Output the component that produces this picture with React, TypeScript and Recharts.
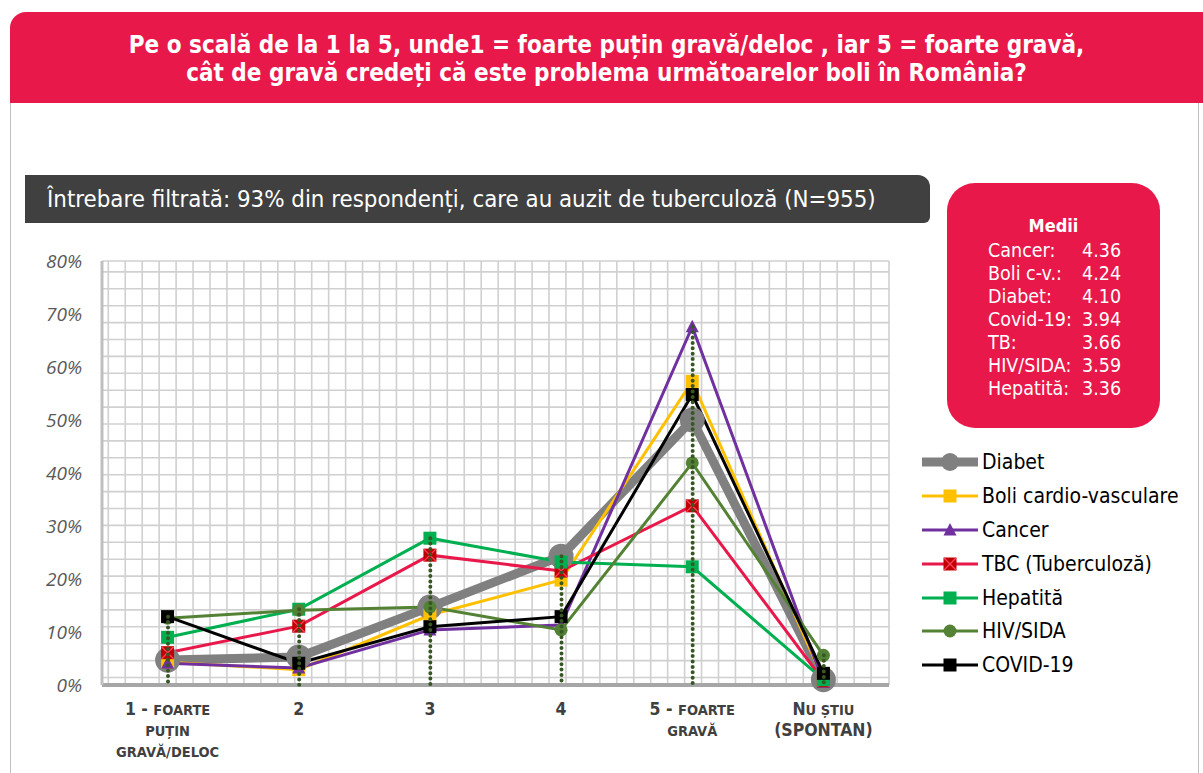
import React from "react";
import {
  ComposedChart,
  Line,
  Bar,
  XAxis,
  YAxis,
  CartesianGrid,
} from "recharts";

// categories of the scale (x axis)
const categories = ["1", "2", "3", "4", "5", "NS"];
// each label line: [big part, small-caps part]
const categoryLabels: [string, string][][] = [
  [["1 - ", "FOARTE"], ["", "PUȚIN"], ["", "GRAVĂ/DELOC"]],
  [["2", ""]],
  [["3", ""]],
  [["4", ""]],
  [["5 - ", "FOARTE"], ["", "GRAVĂ"]],
  [["N", "U ȘTIU"], ["(SPONTAN)", ""]],
];

// % of respondents, one value per category
const diabet = [4.7, 5.3, 14.7, 24.3, 50.0, 1.0];
const boliCV = [4.3, 2.9, 13.2, 19.8, 57.3, 1.0];
const cancer = [4.1, 3.2, 10.4, 11.3, 67.6, 0.5];
const tbc = [6.1, 11.1, 24.5, 21.5, 33.8, 0.8];
const hepatita = [9.0, 14.3, 27.7, 23.2, 22.3, 1.0];
const hivSida = [12.6, 14.1, 14.7, 10.4, 41.9, 5.6];
const covid = [12.9, 4.1, 11.0, 12.9, 54.8, 2.2];

const yTicks = [0, 10, 20, 30, 40, 50, 60, 70, 80];

const mediiLabels = ["Cancer:", "Boli c-v.:", "Diabet:", "Covid-19:", "TB:", "HIV/SIDA:", "Hepatită:"];
const mediiValues = ["4.36", "4.24", "4.10", "3.94", "3.66", "3.59", "3.36"];

const RED = "#E8184A";
const FONT = "'DejaVu Sans Condensed', 'DejaVu Sans', sans-serif";

type Marker = "circle" | "square" | "triangle" | "xsquare" | "dot";

const series = [
  { key: "diabet", name: "Diabet", values: diabet, color: "#808080", width: 9, marker: "circle" as Marker, fill: "#808080" },
  { key: "boliCV", name: "Boli cardio-vasculare", values: boliCV, color: "#FFC000", width: 3, marker: "square" as Marker, fill: "#FFC000" },
  { key: "cancer", name: "Cancer", values: cancer, color: "#7030A0", width: 3, marker: "triangle" as Marker, fill: "#7030A0" },
  { key: "tbc", name: "TBC (Tuberculoză)", values: tbc, color: "#E8194A", width: 3, marker: "xsquare" as Marker, fill: "#C00000" },
  { key: "hepatita", name: "Hepatită", values: hepatita, color: "#00B050", width: 3, marker: "square" as Marker, fill: "#00B050" },
  { key: "hivSida", name: "HIV/SIDA", values: hivSida, color: "#548235", width: 3, marker: "dot" as Marker, fill: "#548235" },
  { key: "covid", name: "COVID-19", values: covid, color: "#000000", width: 3, marker: "square" as Marker, fill: "#000000" },
];

const data = categories.map((cat, i) => {
  const row: Record<string, any> = { cat };
  series.forEach((s) => (row[s.key] = s.values[i]));
  row.top = Math.max(...series.map((s) => s.values[i]));
  return row;
});

function drawMarker(kind: Marker, cx: number, cy: number, fill: string, key?: string, small = false) {
  const r = small ? 9 : 12.5;
  switch (kind) {
    case "circle":
      return <circle key={key} cx={cx} cy={cy} r={r} fill={fill} />;
    case "dot":
      return <circle key={key} cx={cx} cy={cy} r={6.5} fill={fill} />;
    case "triangle":
      return <path key={key} d={`M${cx},${cy - 7}L${cx + 6.5},${cy + 5.5}L${cx - 6.5},${cy + 5.5}Z`} fill={fill} />;
    case "xsquare":
      return (
        <g key={key}>
          <rect x={cx - 6.5} y={cy - 6.5} width={13} height={13} fill={fill} />
          <path d={`M${cx - 6},${cy - 6}L${cx + 6},${cy + 6}M${cx + 6},${cy - 6}L${cx - 6},${cy + 6}`} stroke="#FF4060" strokeWidth={1.3} />
        </g>
      );
    default:
      return <rect key={key} x={cx - 6.5} y={cy - 6.5} width={13} height={13} fill={fill} />;
  }
}

const makeDot = (kind: Marker, fill: string) => (props: any) => {
  const { cx, cy, index } = props;
  if (cx == null || cy == null) return <g key={`e-${index}`} />;
  return drawMarker(kind, cx, cy, fill, `m-${index}`);
};

const DropLine = (props: any) => {
  const { x, y, width, height } = props;
  const cx = x + width / 2;
  return (
    <line
      x1={cx}
      x2={cx}
      y1={y}
      y2={y + height}
      stroke="#375623"
      strokeWidth={4}
      strokeLinecap="round"
      strokeDasharray="0 5.4"
    />
  );
};

const CategoryTick = (props: any) => {
  const { x, y, index } = props;
  const lines = categoryLabels[index] || [];
  return (
    <g transform={`translate(${x},${y})`}>
      {lines.map(([big, small], i) => (
        <text
          key={i}
          x={0}
          y={i * 21}
          dy={22}
          textAnchor="middle"
          fill="#404040"
          fontFamily={FONT}
          fontWeight={700}
        >
          {big && <tspan fontSize={17.5}>{big}</tspan>}
          {small && <tspan fontSize={14.5}>{small}</tspan>}
        </text>
      ))}
    </g>
  );
};

const hGrid = ({ offset }: any) => {
  const top = offset.top;
  const bottom = offset.top + offset.height;
  const out: number[] = [top];
  for (let y = bottom - 7.5; y > top + 3; y -= 16.9) out.push(y);
  return out;
};

const vGrid = ({ offset }: any) => {
  const left = offset.left;
  const right = offset.left + offset.width;
  const out: number[] = [right];
  for (let x = left + 6.3; x < right - 3; x += 16.95) out.push(x);
  return out;
};

function LegendIcon({ s }: { s: (typeof series)[number] }) {
  return (
    <svg width={58} height={26} style={{ display: "block" }}>
      <line x1={1} x2={57} y1={13} y2={13} stroke={s.color} strokeWidth={s.width} />
      {drawMarker(s.marker, 29, 13, s.fill, undefined, true)}
    </svg>
  );
}

export default function App() {
  return (
    <div style={{ position: "absolute", left: 0, top: 0, width: 1203, height: 773, overflow: "hidden", background: "#fff", fontFamily: FONT }}>
      {/* panel frame */}
      <div style={{ position: "absolute", left: 10, top: 102, width: 1189, height: 700, border: "1.5px solid #BFBFBF", boxSizing: "border-box" }} />
      {/* title banner */}
      <div
        style={{
          position: "absolute",
          left: 10,
          top: 12,
          width: 1193,
          height: 91,
          background: RED,
          borderTopLeftRadius: 16,
          color: "#fff",
          fontWeight: 700,
          fontSize: 24,
          lineHeight: "28px",
          textAlign: "center",
          paddingTop: 19,
          boxSizing: "border-box",
        }}
      >
        Pe o scală de la 1 la 5, unde1 = foarte puțin gravă/deloc , iar 5 = foarte gravă,
        <br />
        cât de gravă credeți că este problema următoarelor boli în România?
      </div>
      {/* subtitle */}
      <div
        style={{
          position: "absolute",
          left: 25,
          top: 175,
          width: 905,
          height: 48,
          background: "#404040",
          borderRadius: "0 12px 6px 0",
          color: "#fff",
          fontSize: 23.8,
          lineHeight: "48px",
          paddingLeft: 22,
          boxSizing: "border-box",
          whiteSpace: "nowrap",
        }}
      >
        Întrebare filtrată: 93% din respondenți, care au auzit de tuberculoză (N=955)
      </div>

      <div style={{ position: "absolute", left: 0, top: 0 }}>
        <ComposedChart width={1203} height={773} data={data} margin={{ top: 261, right: 314, bottom: 8, left: 42 }}>
          <CartesianGrid
            stroke="#D0D0D0"
            strokeWidth={1.6}
            horizontalCoordinatesGenerator={hGrid}
            verticalCoordinatesGenerator={vGrid}
          />
          <XAxis
            dataKey="cat"
            height={80}
            interval={0}
            tickLine={false}
            axisLine={{ stroke: "#A6A6A6", strokeWidth: 4 }}
            tick={<CategoryTick />}
          />
          <YAxis
            width={60}
            domain={[0, 80]}
            ticks={yTicks}
            interval={0}
            tickLine={false}
            tickSize={0}
            tickMargin={20}
            axisLine={{ stroke: "#BFBFBF", strokeWidth: 3 }}
            tickFormatter={(v: number) => `${v}%`}
            tick={{ fill: "#595959", fontSize: 19, fontStyle: "italic", fontFamily: "'Open Sans', sans-serif" }}
          />
          {series.map((s) => (
            <Line
              key={s.key}
              dataKey={s.key}
              name={s.name}
              type="linear"
              stroke={s.color}
              strokeWidth={s.width}
              dot={makeDot(s.marker, s.fill)}
              activeDot={false}
              isAnimationActive={false}
            />
          ))}
          <Bar dataKey="top" barSize={10} shape={<DropLine />} isAnimationActive={false} {...({ zIndex: 700 } as any)} />
        </ComposedChart>
      </div>

      {/* averages box */}
      <div
        style={{
          position: "absolute",
          left: 947,
          top: 183,
          width: 213,
          height: 245,
          background: RED,
          borderRadius: 28,
          color: "#fff",
          fontSize: 19.5,
        }}
      >
        <div style={{ position: "absolute", top: 32, width: "100%", textAlign: "center", fontWeight: 700, fontSize: 18 }}>Medii</div>
        {mediiLabels.map((l, i) => (
          <div key={l} style={{ position: "absolute", left: 41, top: 56 + i * 23, lineHeight: "23px", whiteSpace: "nowrap" }}>
            <span style={{ display: "inline-block", width: 94 }}>{l}</span>
            <span>{mediiValues[i]}</span>
          </div>
        ))}
      </div>

      {/* legend */}
      <div style={{ position: "absolute", left: 921, top: 445 }}>
        {series.map((s) => (
          <div key={s.key} style={{ display: "flex", alignItems: "center", height: 33.9 }}>
            <LegendIcon s={s} />
            <span style={{ fontSize: 21, color: "#000", marginLeft: 3, whiteSpace: "nowrap" }}>{s.name}</span>
          </div>
        ))}
      </div>
    </div>
  );
}
